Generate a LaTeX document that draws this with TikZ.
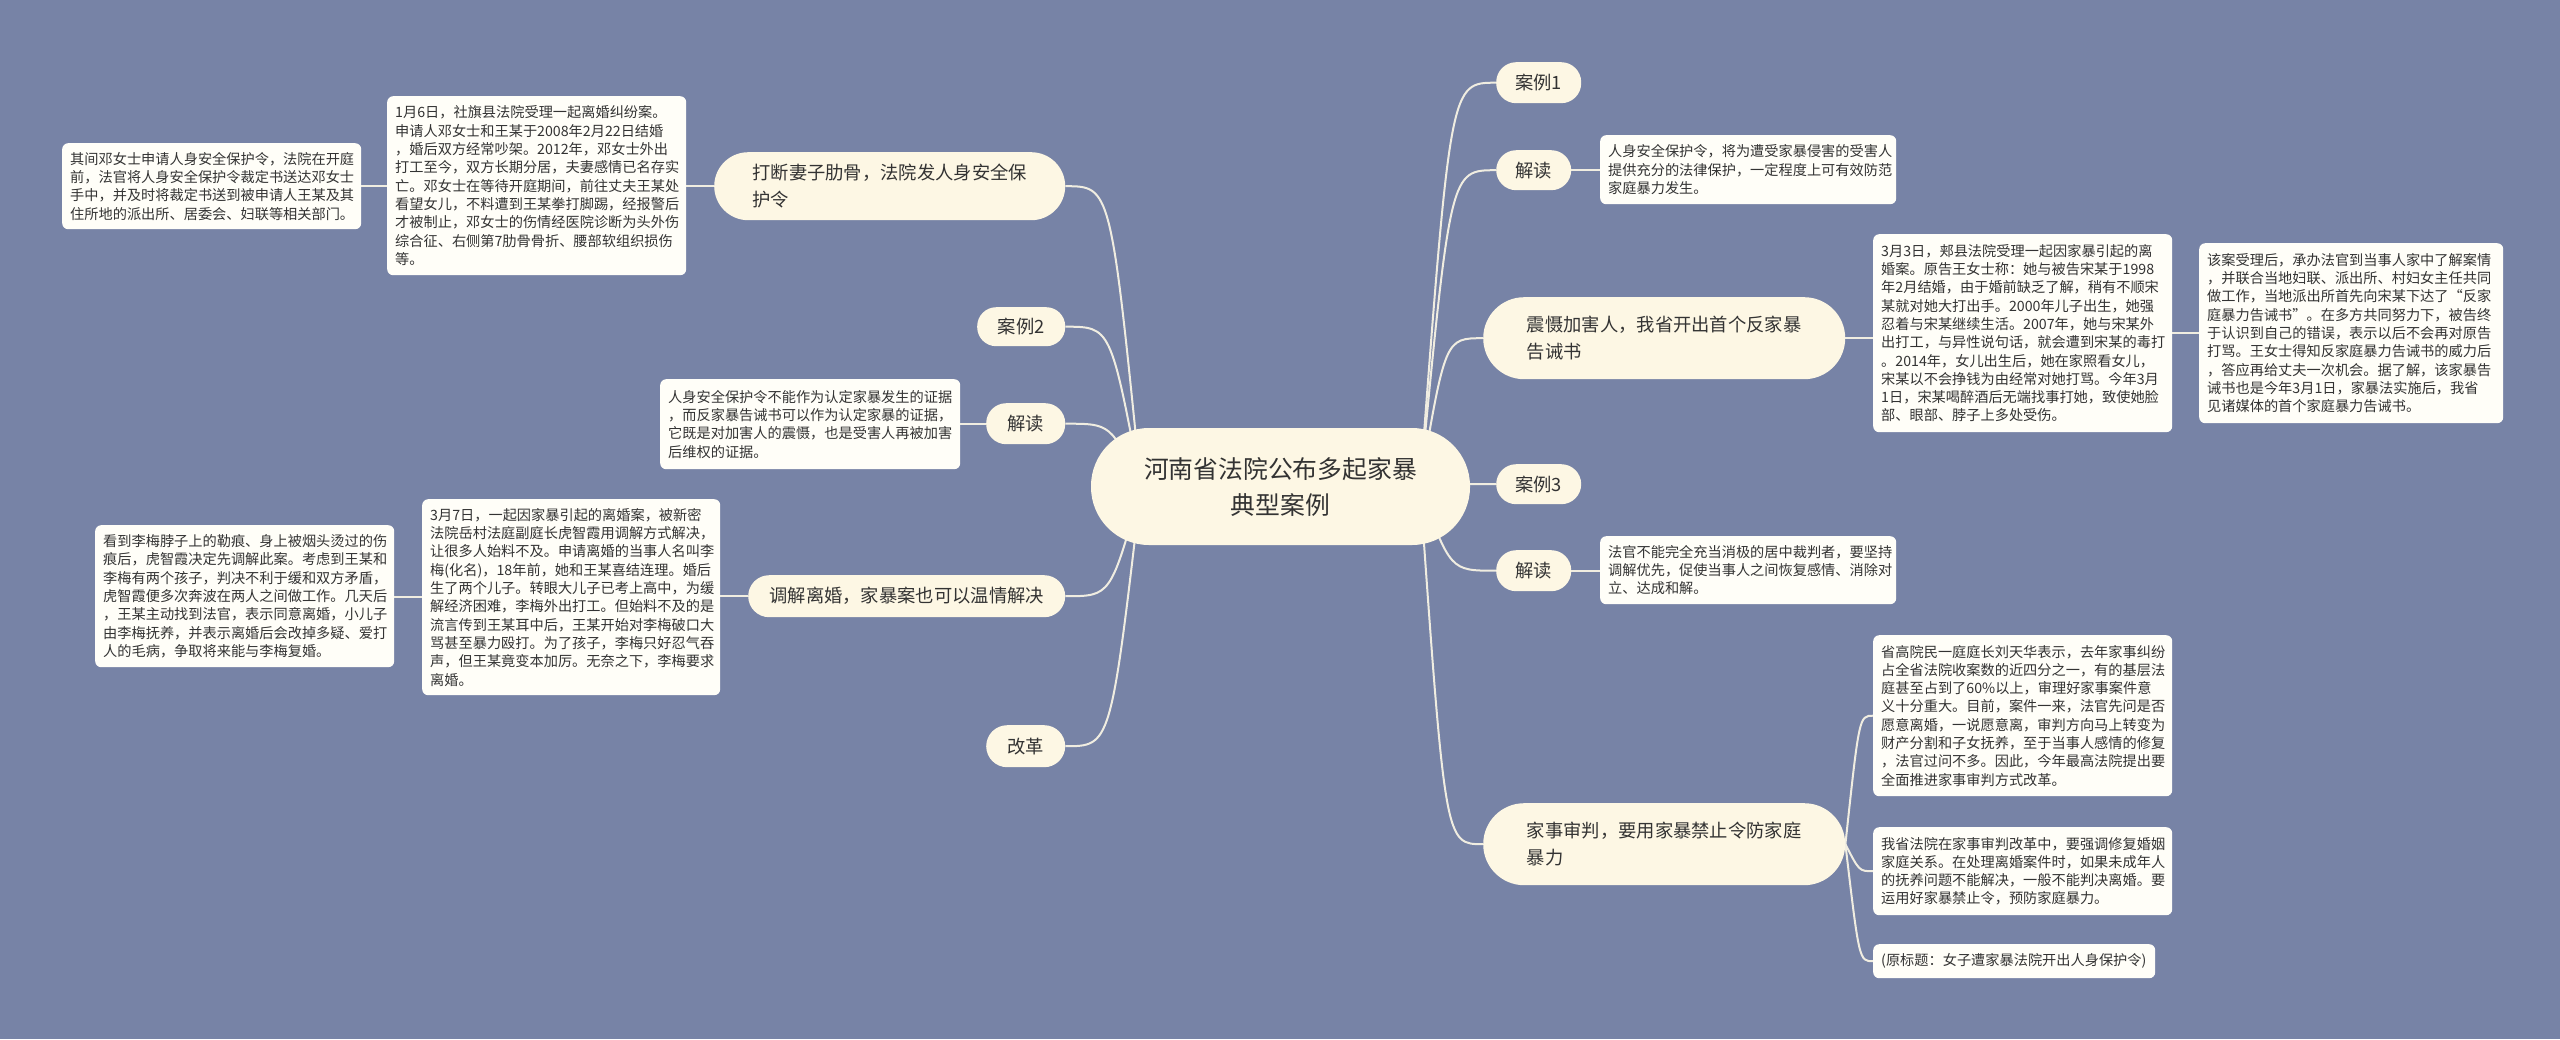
\documentclass[tikz,border=0pt]{standalone}
\usepackage{fontspec}
\setmainfont{Noto Sans CJK SC}
\usetikzlibrary{calc}
\definecolor{bgc}{RGB}{119,131,166}
\definecolor{nodefill}{RGB}{253,247,228}
\definecolor{notefill}{RGB}{255,254,248}
\definecolor{txt}{RGB}{51,51,51}
\definecolor{linec}{RGB}{240,237,225}
\pgfdeclarelayer{background}
\pgfsetlayers{background,main}
\newcommand\mmcurve[3][0.4]{\draw[conn] let \p1=(#2), \p2=(#3) in (\p1) .. controls ({\x1+#1*(\x2-\x1)},\y2) .. (\p2);}
\begin{document}
\begin{tikzpicture}[x=1pt,y=-1pt,
  root/.style={fill=nodefill, text=txt, font=\fontsize{24.8}{36}\selectfont, align=center, rounded corners=58pt, minimum width=379pt, minimum height=117pt, inner sep=0pt},
  topic/.style={fill=nodefill, text=txt, font=\fontsize{18.3}{27}\selectfont, align=left, inner sep=0pt, anchor=north west},
  note/.style={fill=notefill, text=txt, font=\fontsize{14.2}{18.3}\selectfont, align=left, rounded corners=6pt, inner xsep=8pt, inner ysep=0pt, anchor=north west},
  conn/.style={draw=linec, line width=2pt}]
\begin{pgfonlayer}{background}
\fill[bgc] (0,0) rectangle (2560,1039);
\end{pgfonlayer}
\useasboundingbox (0,0) rectangle (2560,1039);

\node[root] (root) at (1280.5,486.5) {河南省法院公布多起家暴\\典型案例};
\coordinate (rootR) at (1420,487);
\coordinate (rootL) at (1141,487);

% right topics
\node[topic, minimum width=85pt, minimum height=41pt, rounded corners=20pt] (r1) at (1496,62) {案例1};
\node[topic, minimum width=75pt, minimum height=40pt, rounded corners=20pt] (r2) at (1496,150) {解读};
\node[topic, minimum width=362pt, minimum height=82pt, rounded corners=41pt] (r3) at (1483,297) {震慑加害人，我省开出首个反家暴\\告诫书};
\node[topic, minimum width=85pt, minimum height=40pt, rounded corners=20pt] (r4) at (1496,464) {案例3};
\node[topic, minimum width=75pt, minimum height=41pt, rounded corners=20pt] (r5) at (1496,550) {解读};
\node[topic, minimum width=362pt, minimum height=82pt, rounded corners=41pt] (r6) at (1483,803) {家事审判，要用家暴禁止令防家庭\\暴力};
% left topics
\node[topic, minimum width=351pt, minimum height=68pt, rounded corners=34pt] (l1) at (714,152) {打断妻子肋骨，法院发人身安全保\\护令};
\node[topic, minimum width=88pt, minimum height=39pt, rounded corners=19pt] (l2) at (977,307) {案例2};
\node[topic, minimum width=79pt, minimum height=41pt, rounded corners=20pt] (l3) at (986,403) {解读};
\node[topic, minimum width=317pt, minimum height=42pt, rounded corners=21pt] (l4) at (748,575) {调解离婚，家暴案也可以温情解决};
\node[topic, minimum width=79pt, minimum height=42pt, rounded corners=21pt] (l5) at (986,725) {改革};

% notes
\node[note, text width=283pt, minimum height=179pt] (A) at (387,96) {1月6日，社旗县法院受理一起离婚纠纷案。\\申请人邓女士和王某于2008年2月22日结婚\\，婚后双方经常吵架。2012年，邓女士外出\\打工至今，双方长期分居，夫妻感情已名存实\\亡。邓女士在等待开庭期间，前往丈夫王某处\\看望女儿，不料遭到王某拳打脚踢，经报警后\\才被制止，邓女士的伤情经医院诊断为头外伤\\综合征、右侧第7肋骨骨折、腰部软组织损伤\\等。};
\node[note, text width=283pt, minimum height=86pt] (B) at (62,143) {其间邓女士申请人身安全保护令，法院在开庭\\前，法官将人身安全保护令裁定书送达邓女士\\手中，并及时将裁定书送到被申请人王某及其\\住所地的派出所、居委会、妇联等相关部门。};
\node[note, text width=280pt, minimum height=69pt] (C) at (1600,135) {人身安全保护令，将为遭受家暴侵害的受害人\\提供充分的法律保护，一定程度上可有效防范\\家庭暴力发生。};
\node[note, text width=283pt, minimum height=198pt] (D) at (1873,234) {3月3日，郏县法院受理一起因家暴引起的离\\婚案。原告王女士称：她与被告宋某于1998\\年2月结婚，由于婚前缺乏了解，稍有不顺宋\\某就对她大打出手。2000年儿子出生，她强\\忍着与宋某继续生活。2007年，她与宋某外\\出打工，与异性说句话，就会遭到宋某的毒打\\。2014年，女儿出生后，她在家照看女儿，\\宋某以不会挣钱为由经常对她打骂。今年3月\\1日，宋某喝醉酒后无端找事打她，致使她脸\\部、眼部、脖子上多处受伤。};
\node[note, text width=288pt, minimum height=180pt] (E) at (2199,243) {该案受理后，承办法官到当事人家中了解案情\\，并联合当地妇联、派出所、村妇女主任共同\\做工作，当地派出所首先向宋某下达了“反家\\庭暴力告诫书”。在多方共同努力下，被告终\\于认识到自己的错误，表示以后不会再对原告\\打骂。王女士得知反家庭暴力告诫书的威力后\\，答应再给丈夫一次机会。据了解，该家暴告\\诫书也是今年3月1日，家暴法实施后，我省\\见诸媒体的首个家庭暴力告诫书。};
\node[note, text width=284pt, minimum height=90pt] (F) at (660,379) {人身安全保护令不能作为认定家暴发生的证据\\，而反家暴告诫书可以作为认定家暴的证据，\\它既是对加害人的震慑，也是受害人再被加害\\后维权的证据。};
\node[note, text width=282pt, minimum height=196pt] (G) at (422,499) {3月7日，一起因家暴引起的离婚案，被新密\\法院岳村法庭副庭长虎智霞用调解方式解决，\\让很多人始料不及。申请离婚的当事人名叫李\\梅(化名)，18年前，她和王某喜结连理。婚后\\生了两个儿子。转眼大儿子已考上高中，为缓\\解经济困难，李梅外出打工。但始料不及的是\\流言传到王某耳中后，王某开始对李梅破口大\\骂甚至暴力殴打。为了孩子，李梅只好忍气吞\\声，但王某竟变本加厉。无奈之下，李梅要求\\离婚。};
\node[note, text width=283pt, minimum height=142pt] (H) at (95,525) {看到李梅脖子上的勒痕、身上被烟头烫过的伤\\痕后，虎智霞决定先调解此案。考虑到王某和\\李梅有两个孩子，判决不利于缓和双方矛盾，\\虎智霞便多次奔波在两人之间做工作。几天后\\，王某主动找到法官，表示同意离婚，小儿子\\由李梅抚养，并表示离婚后会改掉多疑、爱打\\人的毛病，争取将来能与李梅复婚。};
\node[note, text width=280pt, minimum height=68pt] (I) at (1600,536) {法官不能完全充当消极的居中裁判者，要坚持\\调解优先，促使当事人之间恢复感情、消除对\\立、达成和解。};
\node[note, text width=283pt, minimum height=161pt] (J) at (1873,635) {省高院民一庭庭长刘天华表示，去年家事纠纷\\占全省法院收案数的近四分之一，有的基层法\\庭甚至占到了60\%以上，审理好家事案件意\\义十分重大。目前，案件一来，法官先问是否\\愿意离婚，一说愿意离，审判方向马上转变为\\财产分割和子女抚养，至于当事人感情的修复\\，法官过问不多。因此，今年最高法院提出要\\全面推进家事审判方式改革。};
\node[note, text width=283pt, minimum height=88pt] (K) at (1873,827) {我省法院在家事审判改革中，要强调修复婚姻\\家庭关系。在处理离婚案件时，如果未成年人\\的抚养问题不能解决，一般不能判决离婚。要\\运用好家暴禁止令，预防家庭暴力。};
\node[note, text width=266pt, minimum height=34pt] (L) at (1873,944) {(原标题：女子遭家暴法院开出人身保护令)};

\begin{pgfonlayer}{background}
\mmcurve{rootR}{r1.west}
\mmcurve{rootR}{r2.west}
\mmcurve{rootR}{r3.west}
\mmcurve{rootR}{r4.west}
\mmcurve{rootR}{r5.west}
\mmcurve{rootR}{r6.west}
\mmcurve{rootL}{l1.east}
\mmcurve{rootL}{l2.east}
\mmcurve{rootL}{l3.east}
\mmcurve{rootL}{l4.east}
\mmcurve{rootL}{l5.east}
\draw[conn] (r2.east) -- (r2.east -| C.west);
\draw[conn] (r3.east) -- (r3.east -| D.west);
\draw[conn] (D.east) -- (D.east -| E.west);
\draw[conn] (r5.east) -- (r5.east -| I.west);
\draw[conn] (l1.west) -- (l1.west -| A.east);
\draw[conn] (A.west) -- (A.west -| B.east);
\draw[conn] (l3.west) -- (l3.west -| F.east);
\draw[conn] (l4.west) -- (l4.west -| G.east);
\draw[conn] (G.west) -- (G.west -| H.east);
\mmcurve[0.5]{r6.east}{J.west}
\mmcurve[0.5]{r6.east}{K.west}
\mmcurve[0.5]{r6.east}{L.west}
\end{pgfonlayer}
\end{tikzpicture}
\end{document}
